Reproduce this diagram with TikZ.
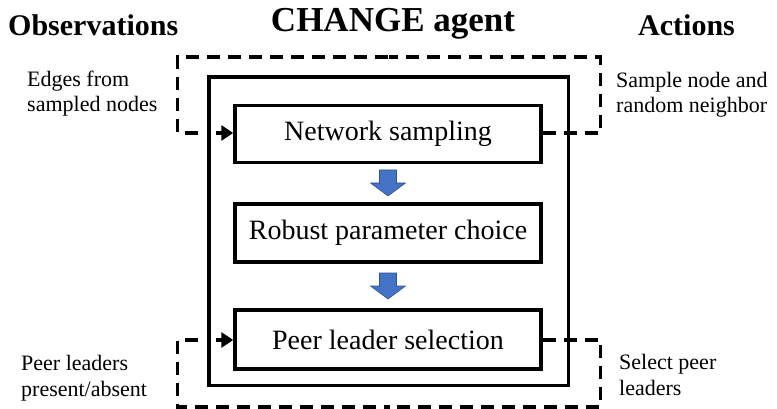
\documentclass[tikz,border=0pt]{standalone}
\usepackage{fontspec}
\setmainfont{Liberation Serif}
\usetikzlibrary{arrows.meta}
\definecolor{arrowblue}{HTML}{4472C4}
\definecolor{arrowedge}{HTML}{2F528F}
\begin{document}
\begin{tikzpicture}[x=1pt,y=-1pt,
  stepbox/.style={draw, line width=3.5pt, minimum width=306pt, inner sep=0pt,
    font=\fontsize{28}{32}\selectfont},
  agentbox/.style={draw, line width=3.5pt, inner sep=0pt},
  loopline/.style={line width=3.5pt, dash pattern=on 13pt off 8pt, line join=miter},
  inarrow/.style={line width=3.5pt, -{Triangle[length=12pt,width=15pt]}},
  sidelabel/.style={anchor=base west, align=left, inner sep=0pt,
    font=\fontsize{22}{25.5}\selectfont},
  heading/.style={inner sep=0pt, font=\bfseries\fontsize{30}{34}\selectfont},
  flowarrow/.style={fill=arrowblue, draw=arrowedge, line width=0.6pt}
]
\useasboundingbox (0,0) rectangle (777,409);

% headings
\node[heading, anchor=base west] (obs) at (8,36) {Observations};
\node[heading, anchor=base, font=\bfseries\fontsize{35}{40}\selectfont] (title) at (393,32) {CHANGE agent};
\node[heading, anchor=base west] (act) at (638,36) {Actions};

% agent box and steps
\node[agentbox, minimum width=359.5pt, minimum height=308.5pt] (agent) at (388.75,231.25) {};
\node[stepbox, minimum height=57pt] (ns) at (388,134) {Network sampling};
\node[stepbox, minimum height=58pt] (rpc) at (388,233) {Robust parameter choice};
\node[stepbox, minimum height=59pt] (pls) at (388,339.5) {Peer leader selection};

% blue flow arrows
\coordinate (a1) at (388,170);
\coordinate (a2) at (388,273);
\foreach \c in {a1,a2}{
  \filldraw[flowarrow] (\c) ++(-8.5,0) -- ++(17,0) -- ++(0,13) -- ++(9,0)
    -- ++(-17.5,13) -- ++(-17.5,-13) -- ++(9,0) -- cycle;
}

% top loop
\coordinate (tR) at (600.5,133);
\coordinate (tRt) at (600.5,57);
\coordinate (tM) at (389,57);
\coordinate (tLt) at (177.5,57);
\coordinate (tL) at (177.5,133);
\coordinate (tLe) at (198,133);
\coordinate (tA) at (216,133);
\draw[loopline] (ns.east |- tR) -- (tR) -- (tRt) -- (tM);
\draw[loopline] (tLe) -- (tL) -- (tLt) -- (tM);
\draw[inarrow] (tA) -- (tA -| ns.west);

% bottom loop
\coordinate (bR) at (600.5,340);
\coordinate (bRb) at (600.5,407);
\coordinate (bM) at (389,407);
\coordinate (bLb) at (177.5,407);
\coordinate (bL) at (177.5,340);
\coordinate (bLe) at (198,340);
\coordinate (bA) at (216,340);
\draw[loopline] (pls.east |- bR) -- (bR) -- (bRb) -- (bM);
\draw[loopline] (bLe) -- (bL) -- (bLb) -- (bM);
\draw[inarrow] (bA) -- (bA -| pls.west);

% side labels
\node[sidelabel] (obs1) at (27,112) {Edges from\\sampled nodes};
\node[sidelabel] (act1) at (616,113) {Sample node and\\random neighbor};
\node[sidelabel] (obs2) at (21,396) {Peer leaders\\present/absent};
\node[sidelabel] (act2) at (619,395) {Select peer\\leaders};
\end{tikzpicture}
\end{document}
